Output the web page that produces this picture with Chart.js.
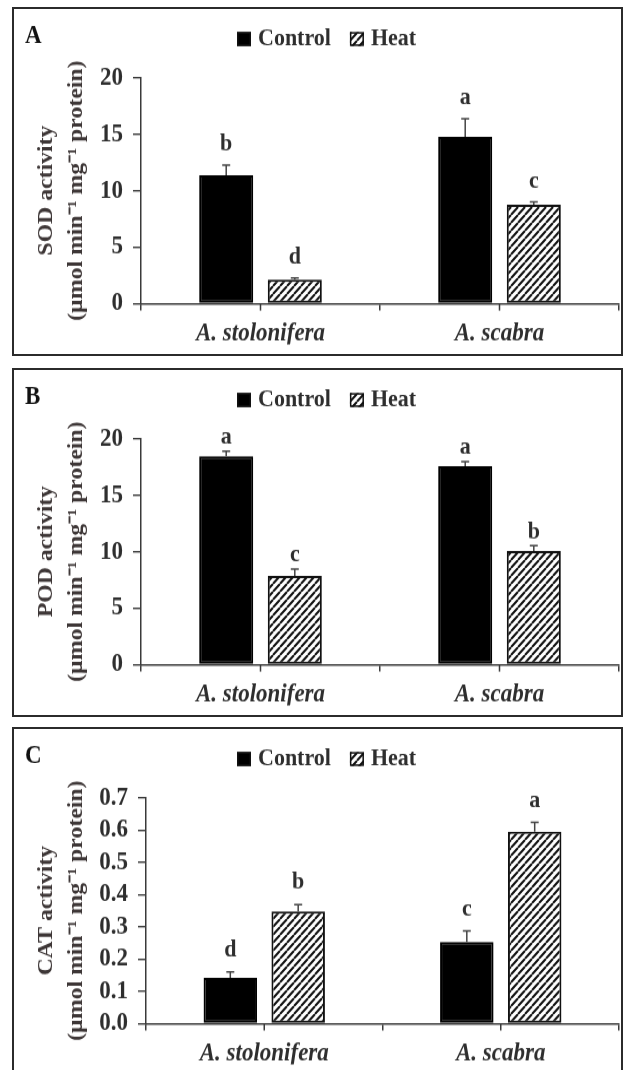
<!DOCTYPE html>
<html>
<head>
<meta charset="utf-8">
<script src="https://cdn.jsdelivr.net/npm/chart.js@4.4.1/dist/chart.umd.min.js"></script>
<style>
  body { margin: 0; background: #fff; width: 623px; height: 1070px; overflow: hidden; position: relative; }
  .panel { position: absolute; left: 12px; width: 607px; height: 345px; border: 2px solid #2b2b2b; background: #fff; }
  .panel canvas { display: block; }
</style>
</head>
<body>
<!-- the source figure is stretched vertically, so each canvas is drawn shorter and scaled up by CSS -->
<div class="panel" style="top:7px"><canvas id="sodChart" width="607" height="305" style="width:607px;height:345px"></canvas></div>
<div class="panel" style="top:368px"><canvas id="podChart" width="607" height="305" style="width:607px;height:345px"></canvas></div>
<div class="panel" style="top:727px"><canvas id="catChart" width="607" height="305" style="width:607px;height:345px"></canvas></div>
<script>
// categories and series
const species = ['A. stolonifera', 'A. scabra'];
const seriesNames = ['Control', 'Heat'];

// A - SOD
const sodControl = [11.36, 14.76];
const sodControlErr = [0.9, 1.6];
const sodHeat = [2.13, 8.76];
const sodHeatErr = [0.13, 0.25];
const sodControlLetters = ['b', 'a'];
const sodHeatLetters = ['d', 'c'];
const sodTicks = ['0', '5', '10', '15', '20'];

// B - POD
const podControl = [18.44, 17.56];
const podControlErr = [0.45, 0.42];
const podHeat = [7.85, 10.06];
const podHeatErr = [0.6, 0.47];
const podControlLetters = ['a', 'a'];
const podHeatLetters = ['c', 'b'];
const podTicks = ['0', '5', '10', '15', '20'];

// C - CAT
const catControl = [0.142, 0.253];
const catControlErr = [0.018, 0.034];
const catHeat = [0.348, 0.595];
const catHeatErr = [0.021, 0.029];
const catControlLetters = ['d', 'c'];
const catHeatLetters = ['b', 'a'];
const catTicks = ['0.0', '0.1', '0.2', '0.3', '0.4', '0.5', '0.6', '0.7'];

const TEXT = '#2e2e2e';
const AXIS = '#3a3a3a';
const FONT = '"Liberation Serif", "Times New Roman", serif';
const SY = 345 / 305; // vertical stretch of the canvas

Chart.defaults.font.family = FONT;
Chart.defaults.color = TEXT;

// diagonal hatch for the Heat bars
function makeHatch() {
    const w = 7, h = 7;
    const c = document.createElement('canvas');
    c.width = w; c.height = h;
    const g = c.getContext('2d');
    g.fillStyle = '#fff';
    g.fillRect(0, 0, w, h);
    g.strokeStyle = '#111';
    g.lineWidth = 2;
    g.beginPath();
    for (let k = -1; k <= 1; k++) {
        g.moveTo(k * w, h);
        g.lineTo(k * w + w, 0);
    }
    g.stroke();
    return g.createPattern(c, 'repeat');
}
const hatch = makeHatch();

// error bars, letters, centre ticks, legend and panel letter
const decorPlugin = {
    id: 'decor',
    afterDatasetsDraw(chart, args, opts) {
        const ctx = chart.ctx;
        const x = chart.scales.x, y = chart.scales.y;
        ctx.save();
        ctx.strokeStyle = AXIS;
        ctx.lineWidth = 1.5;
        species.forEach((s, i) => {
            const px = x.getPixelForValue(i);
            ctx.beginPath();
            ctx.moveTo(px, y.bottom);
            ctx.lineTo(px, y.bottom + 7 / SY);
            ctx.stroke();
        });

        ctx.font = 'bold 22px ' + FONT;
        ctx.textAlign = 'center';
        ctx.textBaseline = 'middle';
        chart.data.datasets.forEach((ds, di) => {
            const meta = chart.getDatasetMeta(di);
            meta.data.forEach((bar, i) => {
                const top = y.getPixelForValue(ds.data[i] + ds.errors[i]);
                const base = y.getPixelForValue(ds.data[i]);
                ctx.strokeStyle = '#444';
                ctx.lineWidth = 1.5;
                ctx.beginPath();
                ctx.moveTo(bar.x, base);
                ctx.lineTo(bar.x, top);
                ctx.moveTo(bar.x - 4, top);
                ctx.lineTo(bar.x + 4, top);
                ctx.stroke();
                ctx.fillStyle = TEXT;
                ctx.fillText(ds.letters[i], bar.x, top - opts.letterGap / SY);
            });
        });
        ctx.restore();
    },
    afterDraw(chart, args, opts) {
        const ctx = chart.ctx;
        ctx.save();
        ctx.textBaseline = 'middle';
        ctx.textAlign = 'left';
        ctx.fillStyle = '#111';
        ctx.font = 'bold 23px ' + FONT;
        ctx.fillText(opts.panel, 11, 27 / SY);

        ctx.font = 'bold 22px ' + FONT;
        let cx = opts.legendX;
        const ly = 30 / SY;
        const bh = 14 / SY;
        chart.data.datasets.forEach(ds => {
            ctx.fillStyle = ds.backgroundColor;
            ctx.fillRect(cx, ly - bh / 2, 14, bh);
            ctx.strokeStyle = '#111';
            ctx.lineWidth = 1.5;
            ctx.strokeRect(cx + 0.75, ly - bh / 2 + 0.75, 12.5, bh - 1.5);
            ctx.fillStyle = TEXT;
            ctx.fillText(ds.label, cx + 21, ly);
            cx += 21 + ctx.measureText(ds.label).width + 19;
        });
        ctx.restore();
    }
};

function makePanel(id, p) {
    return new Chart(document.getElementById(id), {
        type: 'bar',
        data: {
            labels: species,
            datasets: [
                {
                    label: seriesNames[0],
                    data: p.control,
                    errors: p.controlErr,
                    letters: p.controlLetters,
                    backgroundColor: '#000',
                    borderColor: '#000',
                    borderWidth: 2,
                    borderSkipped: false
                },
                {
                    label: seriesNames[1],
                    data: p.heat,
                    errors: p.heatErr,
                    letters: p.heatLetters,
                    backgroundColor: hatch,
                    borderColor: '#111',
                    borderWidth: 2,
                    borderSkipped: false
                }
            ]
        },
        options: {
            responsive: false,
            animation: false,
            devicePixelRatio: 1,
            categoryPercentage: 0.574,
            barPercentage: 0.788,
            layout: { padding: { left: 17, right: 2, top: 68.7 / SY, bottom: 8.6 } },
            plugins: {
                legend: { display: false },
                tooltip: { enabled: false },
                decor: { panel: p.panel, legendX: 223, letterGap: p.letterGap }
            },
            scales: {
                x: {
                    offset: true,
                    grid: { offset: true, drawOnChartArea: false, drawTicks: true, tickLength: 7 / SY, color: AXIS, lineWidth: 1.5 },
                    border: { color: AXIS, width: 1.4 },
                    ticks: { padding: 6.4, maxRotation: 0, color: TEXT, font: { size: 23, weight: 'bold', style: 'italic' } },
                    afterFit: s => { s.height = 36; }
                },
                y: {
                    min: 0,
                    max: p.max,
                    ticks: {
                        stepSize: p.step,
                        autoSkip: false,
                        padding: 10,
                        color: TEXT,
                        font: { size: 23, weight: 'bold' },
                        callback: (v, i) => p.ticks[i]
                    },
                    grid: { drawOnChartArea: false, drawTicks: true, tickLength: 8, color: AXIS, lineWidth: 1.4 },
                    border: { color: AXIS, width: 1.5 },
                    title: {
                        display: true,
                        text: p.title,
                        color: '#3d3636',
                        padding: { top: 0, bottom: 0 },
                        font: { size: 21, weight: 'bold', lineHeight: 1.45 }
                    },
                    afterFit: s => { s.width = p.yWidth; }
                }
            }
        },
        plugins: [decorPlugin]
    });
}

makePanel('sodChart', {
    panel: 'A', control: sodControl, controlErr: sodControlErr, heat: sodHeat, heatErr: sodHeatErr,
    controlLetters: sodControlLetters, heatLetters: sodHeatLetters, ticks: sodTicks,
    max: 20, step: 5, yWidth: 110, letterGap: 21,
    title: ['SOD activity', '(\u00b5mol min\u207b\u00b9 mg\u207b\u00b9 protein)']
});
makePanel('podChart', {
    panel: 'B', control: podControl, controlErr: podControlErr, heat: podHeat, heatErr: podHeatErr,
    controlLetters: podControlLetters, heatLetters: podHeatLetters, ticks: podTicks,
    max: 20, step: 5, yWidth: 110, letterGap: 14,
    title: ['POD activity', '(\u00b5mol min\u207b\u00b9 mg\u207b\u00b9 protein)']
});
makePanel('catChart', {
    panel: 'C', control: catControl, controlErr: catControlErr, heat: catHeat, heatErr: catHeatErr,
    controlLetters: catControlLetters, heatLetters: catHeatLetters, ticks: catTicks,
    max: 0.7, step: 0.1, yWidth: 115, letterGap: 22,
    title: ['CAT activity', '(\u00b5mol min\u207b\u00b9 mg\u207b\u00b9 protein)']
});
</script>
</body>
</html>
